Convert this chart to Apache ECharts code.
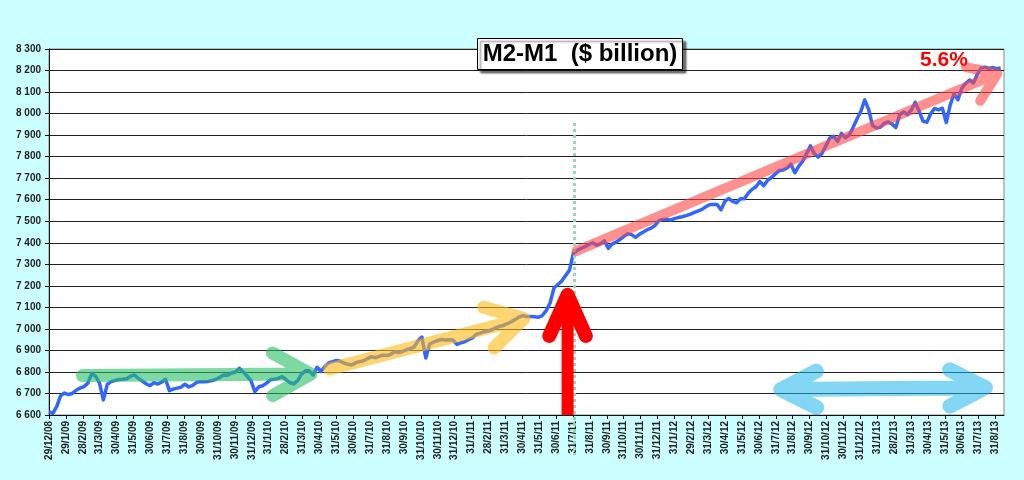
<!DOCTYPE html>
<html>
<head>
<meta charset="utf-8">
<title>M2-M1</title>
<script src="https://cdn.jsdelivr.net/npm/echarts@6/dist/echarts.min.js"></script>
<style>
  html, body { margin: 0; padding: 0; background: #CCFFFF; }
  #chart { width: 1024px; height: 480px; }
</style>
</head>
<body>
<div id="chart"></div>
<script>
// month-end labels under the x axis (one per month, 29/12/08 .. 31/8/13)
const monthLabels = [
  '29/12/08', '29/1/09', '28/2/09', '31/3/09', '30/4/09', '31/5/09', '30/6/09', '31/7/09', '31/8/09', '30/9/09', '31/10/09', '30/11/09', '31/12/09',
  '31/1/10', '28/2/10', '31/3/10', '30/4/10', '31/5/10', '30/6/10', '31/7/10', '31/8/10', '30/9/10', '31/10/10', '30/11/10', '31/12/10',
  '31/1/11', '28/2/11', '31/3/11', '30/4/11', '31/5/11', '30/6/11', '31/7/11', '31/8/11', '30/9/11', '31/10/11', '30/11/11', '31/12/11',
  '31/1/12', '29/2/12', '31/3/12', '30/4/12', '31/5/12', '30/6/12', '31/7/12', '31/8/12', '30/9/12', '31/10/12', '30/11/12', '31/12/12',
  '31/1/13', '28/2/13', '31/3/13', '30/4/13', '31/5/13', '30/6/13', '31/7/13', '31/8/13'
];

// weekly M2-M1, $ billion, first week 29/12/08
const m2m1 = [
  6615, 6608, 6640, 6690, 6702, 6695, 6700, 6715, 6725, 6732,
  6748, 6792, 6780, 6748, 6670, 6742, 6755, 6760, 6765, 6766,
  6768, 6780, 6786, 6770, 6758, 6745, 6736, 6750, 6744, 6753,
  6766, 6713, 6720, 6725, 6729, 6743, 6730, 6738, 6752, 6755,
  6755, 6756, 6760, 6766, 6775, 6786, 6785, 6795, 6800, 6817,
  6800, 6780, 6760, 6708, 6731, 6736, 6748, 6764, 6766, 6770,
  6778, 6765, 6750, 6745, 6760, 6790, 6805, 6805, 6786, 6822,
  6802, 6825, 6842, 6848, 6853, 6850, 6840, 6836, 6832, 6843,
  6848, 6852, 6862, 6871, 6866, 6872, 6879, 6876, 6882, 6894,
  6890, 6895, 6903, 6908, 6916, 6945, 6962, 6865, 6930, 6938,
  6945, 6951, 6948, 6950, 6948, 6928, 6935, 6940, 6950, 6958,
  6975, 6980, 6987, 6990, 6996, 7005, 7012, 7016, 7024, 7033,
  7043, 7055, 7062, 7057, 7057, 7056, 7054, 7062, 7085, 7120,
  7190, 7206, 7222, 7248, 7273, 7352, 7365, 7374, 7382, 7392,
  7400, 7389, 7396, 7409, 7374, 7395, 7403, 7416, 7430, 7442,
  7438, 7425, 7439, 7450, 7461, 7468, 7480, 7503, 7508, 7509,
  7505, 7512, 7517, 7521, 7526, 7532, 7540, 7547, 7554, 7566,
  7577, 7578, 7578, 7553, 7592, 7606, 7592, 7586, 7604, 7604,
  7630, 7648, 7660, 7685, 7665, 7690, 7703, 7720, 7736, 7738,
  7747, 7765, 7725, 7755, 7778, 7812, 7850, 7815, 7798, 7815,
  7850, 7886, 7895, 7870, 7908, 7888, 7900, 7935, 7975, 8010,
  8064, 8020, 7945, 7933, 7936, 7955, 7962, 7952, 7935, 7994,
  8008, 7995, 8017, 8052, 8012, 7965, 7960, 8000, 8024, 8017,
  8025, 7958, 8040, 8092, 8064, 8118, 8140, 8156, 8142, 8183,
  8212, 8216, 8210, 8214, 8208, 8212
];

const yMin = 6600, yMax = 8300, yStep = 100;
const tickIdx = monthLabels.map((_, i) => i);
const monthsPerWeek = 7 / 30.46;

// hand-drawn marks, in chart units [month index, $bn]
const greenArrow = [[1.98, 6783], [15.5, 6790]];
const yellowArrow = [[16.6, 6814], [28.1, 7048]];
const redArrow = [[30.68, 6600], [30.68, 7158]];
const pinkArrow = [[31.21, 7362], [56.1, 8185]];
const blueArrow = [[43.3, 6718], [55.4, 6727]];
const dottedLine = [[31.09, 7956], [31.09, 6600]];

// one stroked path made of several open polylines (so overlaps are not painted twice)
echarts.graphic.registerShape('strokes', echarts.graphic.extendShape({
  shape: { segs: [] },
  buildPath: function (ctx, shape) {
    shape.segs.forEach(function (seg) {
      ctx.moveTo(seg[0][0], seg[0][1]);
      for (let i = 1; i < seg.length; i++) ctx.lineTo(seg[i][0], seg[i][1]);
    });
  }
}));

const chart = echarts.init(document.getElementById('chart'));
const font = 'Liberation Sans, Arial, sans-serif';

chart.setOption({
  animation: false,
  backgroundColor: '#CCFFFF',
  grid: {
    left: 49, right: 20, top: 49, bottom: 65,
    show: true, backgroundColor: '#ffffff', borderColor: '#888', borderWidth: 1
  },
  xAxis: {
    type: 'value',
    min: 0, max: 56.5,
    splitLine: { show: false },
    axisLine: { lineStyle: { color: '#111', width: 1 } },
    axisTick: { show: true, customValues: tickIdx, length: 4, lineStyle: { color: '#111' } },
    axisLabel: {
      customValues: tickIdx,
      rotate: 90, margin: 6,
      fontSize: 10, fontWeight: 'bold', fontFamily: font, color: '#222',
      formatter: v => monthLabels[v] || ''
    }
  },
  yAxis: {
    type: 'value',
    min: yMin, max: yMax, interval: yStep,
    axisLine: { show: true, lineStyle: { color: '#111', width: 1 } },
    axisTick: { show: true, length: 4, lineStyle: { color: '#111' } },
    splitLine: { show: true, lineStyle: { color: '#222', width: 1 } },
    axisLabel: {
      margin: 8, fontSize: 10, fontWeight: 'bold', fontFamily: font, color: '#222',
      formatter: v => String(v).replace(/\B(?=(\d{3})+(?!\d))/g, ' ')
    }
  },
  series: [{
    type: 'line',
    data: m2m1.map((v, i) => [i * monthsPerWeek, v]),
    symbol: 'none',
    lineStyle: { color: '#3366FF', width: 3.5, join: 'round' },
    z: 3
  }]
});

// ---- overlay drawings ----
const toPx = p => chart.convertToPixel({ gridIndex: 0 }, p);

function headPts(from, tip, len, deg) {
  const dx = from[0] - tip[0], dy = from[1] - tip[1];
  const d = Math.hypot(dx, dy), ux = dx / d, uy = dy / d;
  const a = deg * Math.PI / 180;
  const rot = s => [
    tip[0] + len * (ux * Math.cos(s * a) - uy * Math.sin(s * a)),
    tip[1] + len * (ux * Math.sin(s * a) + uy * Math.cos(s * a))
  ];
  return [rot(1), rot(-1)];
}

function arrowSegs(fromD, tipD, len, deg) {
  const from = toPx(fromD), tip = toPx(tipD);
  const [a, b] = headPts(from, tip, len, deg);
  return [[from, tip], [a, tip, b]];
}
function doubleArrowSegs(leftD, rightD, len, deg) {
  const l = toPx(leftD), r = toPx(rightD);
  const [a1, a2] = headPts(r, l, len, deg);
  const [b1, b2] = headPts(l, r, len, deg);
  return [[a1, l, a2], [l, r], [b1, r, b2]];
}
function stroked(segs, color, w, cap, join) {
  return {
    type: 'strokes', z: 100,
    shape: { segs: segs },
    style: { fill: null, stroke: color, lineWidth: w, lineCap: cap || 'round', lineJoin: join || 'round' }
  };
}

const redBase = toPx(redArrow[0]), redTip = toPx(redArrow[1]);
const [ra, rb] = headPts(redBase, redTip, 45, 24);
const dTop = toPx(dottedLine[0]), dBot = toPx(dottedLine[1]);

chart.setOption({
  graphic: [
    stroked(arrowSegs(greenArrow[0], greenArrow[1], 44, 29), 'rgba(40,190,100,0.6)', 13),
    stroked(arrowSegs(yellowArrow[0], yellowArrow[1], 42, 30), 'rgba(255,185,20,0.6)', 13),
    {
      type: 'line', z: 100,
      shape: { x1: dTop[0], y1: dTop[1], x2: dBot[0], y2: dBot[1] + 40 },
      style: { stroke: '#94D9AE', lineWidth: 3, lineDash: [3, 3] }
    },
    stroked([[redBase, [redTip[0], redTip[1] + 6]]], '#FF0000', 12, 'butt'),
    stroked([[ra, redTip, rb]], '#FF0000', 14),
    stroked(arrowSegs(pinkArrow[0], pinkArrow[1], 32, 35), 'rgba(255,70,70,0.6)', 10),
    stroked(doubleArrowSegs(blueArrow[0], blueArrow[1], 40, 27), 'rgba(30,180,235,0.55)', 15, 'round', 'round'),
    {
      type: 'group', left: 477, top: 38, z: 110,
      children: [
        {
          type: 'rect',
          shape: { x: 0, y: 0, width: 205, height: 31 },
          style: { fill: '#fff', stroke: '#000', lineWidth: 1,
                   shadowBlur: 2, shadowOffsetX: 3, shadowOffsetY: 3, shadowColor: 'rgba(0,0,0,0.55)' }
        },
        {
          type: 'text',
          x: 102.5, y: 16,
          style: { text: 'M2-M1  ($ billion)', font: 'bold 24px ' + font, fill: '#000',
                   align: 'center', verticalAlign: 'middle', textAlign: 'center', textVerticalAlign: 'middle' }
        }
      ]
    },
    {
      type: 'text', left: 920, top: 50, z: 110,
      style: { text: '5.6%', font: 'bold 21px ' + font, fill: '#FF0000' }
    }
  ]
});
</script>
</body>
</html>
